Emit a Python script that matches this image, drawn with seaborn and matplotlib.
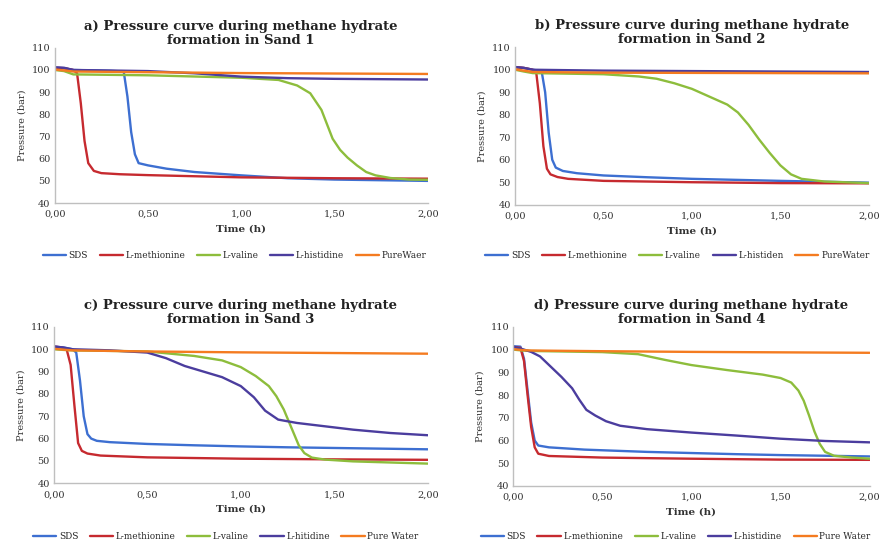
import matplotlib
matplotlib.use("Agg")
import matplotlib.pyplot as plt
import seaborn as sns
import pandas as pd


SERIES = ["SDS", "L-methionine", "L-valine", "L-histidine", "PureWater"]
COLORS = ["#3D6FD1", "#C62A2F", "#8DBD3C", "#4B3D9E", "#F47B20"]

TITLES = [
    "a) Pressure curve during methane hydrate\nformation in Sand 1",
    "b) Pressure curve during methane hydrate\nformation in Sand 2",
    "c) Pressure curve during methane hydrate\nformation in Sand 3",
    "d) Pressure curve during methane hydrate\nformation in Sand 4",
]

LEGEND_LABELS = [
    ["SDS", "L-methionine", "L-valine", "L-histidine", "PureWaer"],
    ["SDS", "L-methionine", "L-valine", "L-histiden", "PureWater"],
    ["SDS", "L-methionine", "L-valine", "L-hitidine", "Pure Water"],
    ["SDS", "L-methionine", "L-valine", "L-histidine", "Pure Water"],
]

# Sand 1 (time in h, pressure in bar)
sand1_sds_t = [0.00, 0.05, 0.10, 0.30, 0.37, 0.39, 0.41, 0.43, 0.45, 0.50, 0.60, 0.75, 1.00, 1.25, 1.50, 1.75, 2.00]
sand1_sds_p = [101.0, 100.8, 100.0, 99.6, 99.3, 88.0, 72.0, 62.0, 58.0, 57.0, 55.5, 54.0, 52.5, 51.2, 50.6, 50.3, 50.0]
sand1_met_t = [0.00, 0.05, 0.10, 0.12, 0.14, 0.16, 0.18, 0.21, 0.25, 0.35, 0.50, 0.75, 1.00, 1.50, 2.00]
sand1_met_p = [101.0, 100.8, 100.0, 98.5, 85.0, 68.0, 58.0, 54.5, 53.5, 53.0, 52.6, 52.1, 51.6, 51.2, 51.0]
sand1_val_t = [0.00, 0.05, 0.10, 0.50, 1.00, 1.20, 1.30, 1.37, 1.43, 1.49, 1.53, 1.57, 1.62, 1.67, 1.72, 1.80, 1.90, 2.00]
sand1_val_p = [100.0, 99.5, 98.0, 97.6, 96.5, 95.5, 93.0, 89.5, 82.0, 69.0, 64.0, 60.5, 57.0, 54.0, 52.5, 51.3, 50.6, 50.5]
sand1_his_t = [0.00, 0.05, 0.10, 0.50, 0.75, 1.00, 1.25, 1.50, 2.00]
sand1_his_p = [101.2, 101.0, 100.0, 99.5, 98.5, 97.0, 96.3, 96.0, 95.7]
sand1_wat_t = [0.00, 0.05, 0.10, 0.50, 1.00, 1.50, 2.00]
sand1_wat_p = [100.2, 99.8, 99.3, 99.0, 98.6, 98.4, 98.2]

# Sand 2
sand2_sds_t = [0.00, 0.05, 0.10, 0.15, 0.17, 0.19, 0.21, 0.23, 0.27, 0.35, 0.50, 0.75, 1.00, 1.50, 2.00]
sand2_sds_p = [101.2, 100.8, 100.0, 99.4, 90.0, 72.0, 60.0, 56.5, 55.0, 54.0, 53.0, 52.2, 51.5, 50.6, 49.8]
sand2_met_t = [0.00, 0.05, 0.10, 0.12, 0.14, 0.16, 0.18, 0.20, 0.24, 0.30, 0.50, 1.00, 1.50, 2.00]
sand2_met_p = [101.2, 100.8, 100.0, 98.5, 85.0, 66.0, 56.0, 53.5, 52.3, 51.5, 50.6, 50.0, 49.6, 49.5]
sand2_val_t = [0.00, 0.05, 0.10, 0.50, 0.70, 0.80, 0.90, 1.00, 1.10, 1.20, 1.26, 1.32, 1.38, 1.44, 1.50, 1.56, 1.62, 1.75, 2.00]
sand2_val_p = [100.0, 99.2, 98.5, 98.0, 97.0, 96.0, 94.0, 91.5, 88.0, 84.5, 81.0, 75.5, 69.0, 63.0, 57.5, 53.5, 51.5, 50.3, 49.6]
sand2_his_t = [0.00, 0.05, 0.10, 0.50, 1.00, 1.50, 2.00]
sand2_his_p = [101.2, 100.8, 100.0, 99.6, 99.4, 99.2, 99.0]
sand2_wat_t = [0.00, 0.05, 0.10, 0.50, 1.00, 1.50, 2.00]
sand2_wat_p = [100.2, 99.6, 99.0, 98.7, 98.6, 98.5, 98.4]

# Sand 3
sand3_sds_t = [0.00, 0.05, 0.10, 0.12, 0.14, 0.16, 0.18, 0.20, 0.23, 0.30, 0.50, 0.75, 1.00, 1.25, 1.50, 1.75, 2.00]
sand3_sds_p = [101.2, 100.8, 100.0, 98.5, 86.0, 70.0, 62.0, 60.0, 59.0, 58.4, 57.6, 57.0, 56.5, 56.1, 55.8, 55.5, 55.2]
sand3_met_t = [0.00, 0.04, 0.07, 0.09, 0.11, 0.13, 0.15, 0.18, 0.25, 0.50, 1.00, 1.50, 2.00]
sand3_met_p = [101.2, 100.8, 99.5, 93.0, 75.0, 58.0, 54.5, 53.3, 52.4, 51.6, 51.0, 50.7, 50.5]
sand3_val_t = [0.00, 0.05, 0.10, 0.50, 0.75, 0.90, 1.00, 1.08, 1.15, 1.19, 1.23, 1.27, 1.31, 1.34, 1.38, 1.45, 1.60, 2.00]
sand3_val_p = [100.0, 99.7, 99.5, 99.0, 97.0, 95.0, 92.0, 88.0, 83.5, 79.0, 73.0, 65.0, 57.0, 53.5, 51.5, 50.6, 49.8, 48.8]
sand3_his_t = [0.00, 0.05, 0.10, 0.30, 0.50, 0.60, 0.70, 0.80, 0.90, 1.00, 1.07, 1.13, 1.20, 1.30, 1.45, 1.60, 1.80, 2.00]
sand3_his_p = [101.2, 100.8, 100.0, 99.5, 98.5, 96.0, 92.5, 90.0, 87.5, 83.5, 78.5, 72.5, 68.5, 67.0, 65.5, 64.0, 62.5, 61.5]
sand3_wat_t = [0.00, 0.05, 0.10, 0.50, 1.00, 1.50, 2.00]
sand3_wat_p = [100.2, 99.8, 99.5, 99.0, 98.6, 98.3, 98.0]

# Sand 4
sand4_sds_t = [0.00, 0.04, 0.06, 0.08, 0.10, 0.12, 0.14, 0.20, 0.40, 0.75, 1.00, 1.25, 1.50, 1.75, 2.00]
sand4_sds_p = [101.5, 101.3, 96.0, 82.0, 68.0, 60.0, 57.8, 57.0, 56.0, 55.0, 54.5, 54.0, 53.6, 53.3, 53.0]
sand4_met_t = [0.00, 0.04, 0.06, 0.08, 0.10, 0.12, 0.14, 0.20, 0.50, 1.00, 1.50, 2.00]
sand4_met_p = [101.2, 100.8, 95.0, 80.0, 66.0, 57.0, 54.2, 53.2, 52.5, 52.0, 51.6, 51.5]
sand4_val_t = [0.00, 0.05, 0.10, 0.50, 0.70, 0.85, 1.00, 1.20, 1.40, 1.50, 1.56, 1.60, 1.63, 1.66, 1.69, 1.72, 1.75, 1.80, 1.90, 2.00]
sand4_val_p = [100.0, 99.6, 99.4, 98.9, 98.0, 95.5, 93.2, 91.0, 89.0, 87.5, 85.5, 82.0, 77.5, 71.0, 64.0, 58.5, 55.0, 53.3, 52.5, 52.0]
sand4_his_t = [0.00, 0.04, 0.10, 0.15, 0.21, 0.27, 0.33, 0.37, 0.41, 0.46, 0.52, 0.60, 0.75, 1.00, 1.25, 1.50, 1.75, 2.00]
sand4_his_p = [101.2, 100.5, 99.0, 97.0, 92.5, 88.0, 83.0, 78.0, 73.5, 71.0, 68.5, 66.5, 65.0, 63.5, 62.2, 60.8, 59.8, 59.2]
sand4_wat_t = [0.00, 0.05, 0.10, 0.50, 1.00, 1.50, 2.00]
sand4_wat_p = [100.2, 99.8, 99.6, 99.3, 99.0, 98.8, 98.6]

SANDS = [
    [(sand1_sds_t, sand1_sds_p), (sand1_met_t, sand1_met_p), (sand1_val_t, sand1_val_p),
     (sand1_his_t, sand1_his_p), (sand1_wat_t, sand1_wat_p)],
    [(sand2_sds_t, sand2_sds_p), (sand2_met_t, sand2_met_p), (sand2_val_t, sand2_val_p),
     (sand2_his_t, sand2_his_p), (sand2_wat_t, sand2_wat_p)],
    [(sand3_sds_t, sand3_sds_p), (sand3_met_t, sand3_met_p), (sand3_val_t, sand3_val_p),
     (sand3_his_t, sand3_his_p), (sand3_wat_t, sand3_wat_p)],
    [(sand4_sds_t, sand4_sds_p), (sand4_met_t, sand4_met_p), (sand4_val_t, sand4_val_p),
     (sand4_his_t, sand4_his_p), (sand4_wat_t, sand4_wat_p)],
]

X_TICKS = [0.0, 0.5, 1.0, 1.5, 2.0]
X_TICK_LABELS = ["0,00", "0,50", "1,00", "1,50", "2,00"]
Y_TICKS = [40, 50, 60, 70, 80, 90, 100, 110]

# axes boxes [left, bottom, width, height] in figure fractions
AX_POS = [
    [0.062, 0.626, 0.423, 0.286],
    [0.584, 0.623, 0.401, 0.290],
    [0.061, 0.110, 0.424, 0.288],
    [0.582, 0.105, 0.404, 0.293],
]
# legend centres in figure fractions
LEGEND_POS = [(0.266, 0.529), (0.768, 0.529), (0.256, 0.012), (0.766, 0.012)]


def build_frame(sand: list) -> pd.DataFrame:
    frames = []
    for name, (t, p) in zip(SERIES, sand):
        frames.append(pd.DataFrame({"Time": t, "Pressure": p, "Series": name}))
    return pd.concat(frames, ignore_index=True)


sns.set_theme(style="white")
plt.rcParams["font.family"] = ["DejaVu Serif"]

fig = plt.figure(figsize=(8.82, 5.43), dpi=100)
palette = dict(zip(SERIES, COLORS))

for i, sand in enumerate(SANDS):
    ax = fig.add_axes(AX_POS[i])
    df = build_frame(sand)
    sns.lineplot(data=df, x="Time", y="Pressure", hue="Series", palette=palette,
                 estimator=None, sort=False, linewidth=1.7, legend=False, ax=ax)

    ax.set_xlim(0, 2)
    ax.set_ylim(40, 110)
    ax.set_xticks(X_TICKS)
    ax.set_xticklabels(X_TICK_LABELS)
    ax.set_yticks(Y_TICKS)
    ax.tick_params(axis="both", labelsize=7, colors="#333333", length=0, pad=3)
    ax.tick_params(axis="x", length=2, color="#BFBFBF")

    for side in ["top", "right"]:
        ax.spines[side].set_visible(False)
    for side in ["left", "bottom"]:
        ax.spines[side].set_color("#BFBFBF")
        ax.spines[side].set_linewidth(1.0)

    ax.set_xlabel("Time (h)", fontsize=7.5, fontweight="bold", color="#333333", labelpad=4)
    ax.set_ylabel("Pressure (bar)", fontsize=7, color="#333333", labelpad=4)
    ax.set_title(TITLES[i], fontsize=9.5, fontweight="bold", color="#222222",
                 linespacing=1.1, pad=3)

    handles = ax.get_lines()[:5]
    ax.legend(handles, LEGEND_LABELS[i], loc="center", bbox_to_anchor=LEGEND_POS[i],
              bbox_transform=fig.transFigure, ncol=5, frameon=False, fontsize=6.4,
              handlelength=2.6, handletextpad=0.3, columnspacing=1.3, borderaxespad=0,
              borderpad=0)

fig.savefig("out.png", dpi=100, facecolor="white")
